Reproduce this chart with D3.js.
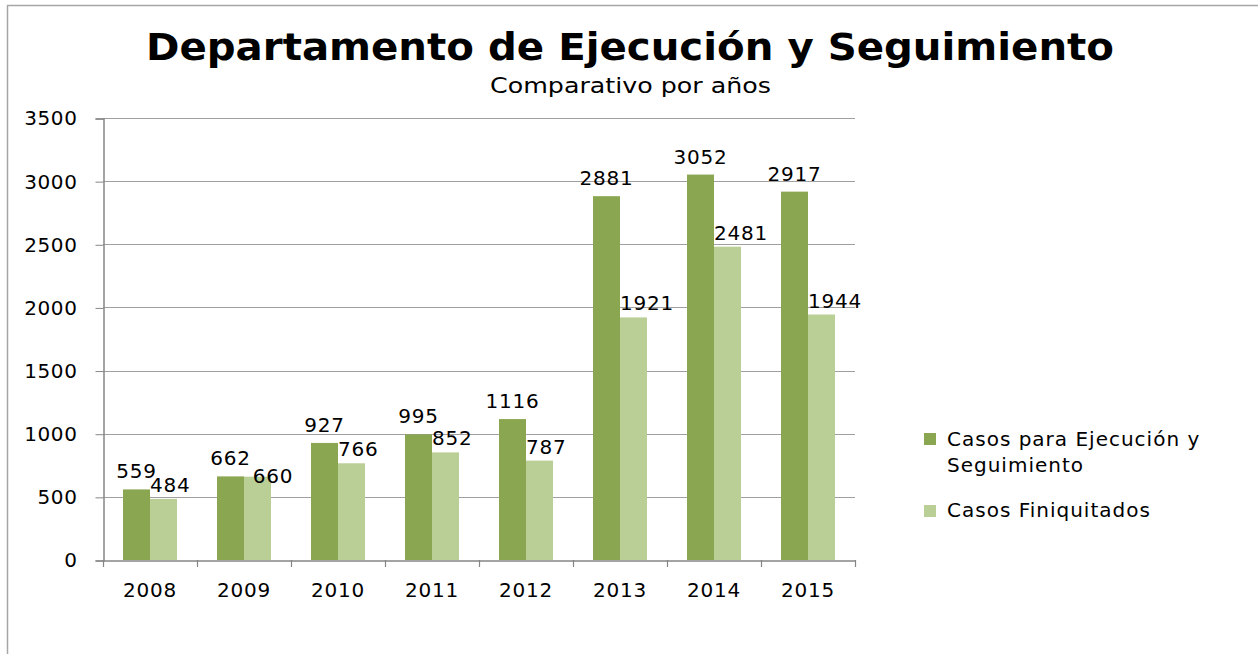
<!DOCTYPE html>
<html>
<head>
<meta charset="utf-8">
<script src="https://cdn.jsdelivr.net/npm/d3@7"></script>
<style>
  body { margin: 0; background: #fff; }
  svg text { font-family: "DejaVu Sans", sans-serif; fill: #000; }
</style>
</head>
<body>
<div id="chart"></div>
<script>
const years = ["2008", "2009", "2010", "2011", "2012", "2013", "2014", "2015"];
const casosEjecucion = [559, 662, 927, 995, 1116, 2881, 3052, 2917];
const casosFiniquitados = [484, 660, 766, 852, 787, 1921, 2481, 1944];
const seriesNames = ["Casos para Ejecución y Seguimiento", "Casos Finiquitados"];
const yTicks = [0, 500, 1000, 1500, 2000, 2500, 3000, 3500];

const colors = ["#8AA650", "#BACF96"];
const W = 1259, H = 654;
const plot = { left: 103, right: 855, top: 118, bottom: 560 };

const svg = d3.select("#chart").append("svg")
  .attr("width", W).attr("height", H);

// outer frame lines
svg.append("line").attr("x1", 7).attr("x2", 1258).attr("y1", 5.5).attr("y2", 5.5)
  .attr("stroke", "#a6a6a6").attr("stroke-width", 1.5);
svg.append("line").attr("x1", 7.5).attr("x2", 7.5).attr("y1", 5).attr("y2", H)
  .attr("stroke", "#a6a6a6").attr("stroke-width", 1.5);

// title (glyphs stretched a bit, like the original)
svg.append("text").attr("x", 146).attr("y", 60)
  .attr("textLength", 968).attr("lengthAdjust", "spacingAndGlyphs")
  .style("font-size", "37px").style("font-weight", "bold")
  .text("Departamento de Ejecución y Seguimiento");
svg.append("text").attr("x", 490).attr("y", 93)
  .attr("textLength", 281).attr("lengthAdjust", "spacingAndGlyphs")
  .style("font-size", "21px")
  .text("Comparativo por años");

const x = d3.scaleBand().domain(years).range([plot.left, plot.right]);
const barW = 27;
const y = d3.scaleLinear().domain([0, 3500]).range([plot.bottom, plot.top]);
const barX = k => (x.bandwidth() - 2 * barW) / 2 + k * barW;

// gridlines
svg.append("g").selectAll("line").data(yTicks.filter(d => d > 0)).join("line")
  .attr("x1", plot.left).attr("x2", plot.right)
  .attr("y1", d => Math.round(y(d)) + 0.5).attr("y2", d => Math.round(y(d)) + 0.5)
  .attr("stroke", "#a0a0a0").attr("stroke-width", 1.2);

// y axis
const yAxis = svg.append("g").attr("transform", `translate(${plot.left + 0.5},0.5)`)
  .call(d3.axisLeft(y).tickValues(yTicks).tickFormat(d3.format("d")).tickSize(8).tickPadding(18));
yAxis.select(".domain").attr("stroke", "#868686").attr("stroke-width", 1.5);
yAxis.selectAll(".tick line").attr("stroke", "#868686");
yAxis.selectAll(".tick text").style("font-size", "20px").style("font-family", "DejaVu Sans")
  .style("letter-spacing", "0.6px");

// bars
const data = years.map((yr, i) => ({ yr, vals: [casosEjecucion[i], casosFiniquitados[i]] }));
const groups = svg.append("g").selectAll("g").data(data).join("g")
  .attr("transform", d => `translate(${x(d.yr)},0)`);
groups.selectAll("rect").data(d => d.vals.map((v, k) => ({ v, k }))).join("rect")
  .attr("x", d => barX(d.k)).attr("width", barW)
  .attr("y", d => y(d.v)).attr("height", d => y(0) - y(d.v))
  .attr("fill", d => colors[d.k]);
groups.each(function () {
  const g = d3.select(this);
  const vals = g.datum().vals;
  const darkY = y(vals[0]) - 11, lightY = y(vals[1]) - 7;
  const dark = g.append("text")
    .attr("x", barX(0) + barW / 2).attr("y", darkY)
    .attr("text-anchor", "middle")
    .style("font-size", "20px").style("letter-spacing", "0.8px")
    .text(vals[0]);
  const light = g.append("text")
    .attr("x", barX(1)).attr("y", lightY)
    .style("font-size", "20px").style("letter-spacing", "0.8px")
    .text(vals[1]);
  // nudge the second label when it would sit on top of the first
  const a = dark.node().getBBox();
  if (a.x + a.width > barX(1) && Math.abs(darkY - lightY) < 12) {
    light.attr("x", a.x + a.width + 2).attr("y", y(vals[1]) + 6);
  }
});

// x axis
const xAxis = svg.append("g").attr("transform", `translate(0,${plot.bottom + 0.5})`)
  .call(d3.axisBottom(x).tickSize(0).tickPadding(22));
xAxis.select(".domain").attr("stroke", "#868686").attr("stroke-width", 1.5);
xAxis.selectAll(".tick text").style("font-size", "20px").style("font-family", "DejaVu Sans")
  .style("letter-spacing", "0.8px");
svg.append("g").selectAll("line").data(years.concat(["end"])).join("line")
  .attr("x1", (d, i) => Math.round(plot.left + i * x.step()) + 0.5)
  .attr("x2", (d, i) => Math.round(plot.left + i * x.step()) + 0.5)
  .attr("y1", plot.bottom).attr("y2", plot.bottom + 7)
  .attr("stroke", "#868686").attr("stroke-width", 1.2);

// legend
const legend = svg.append("g").style("font-size", "20px").style("letter-spacing", "1px");
legend.append("rect").attr("x", 924).attr("y", 433).attr("width", 12).attr("height", 12).attr("fill", colors[0]);
legend.append("text").attr("x", 947).attr("y", 446).text("Casos para Ejecución y");
legend.append("text").attr("x", 947).attr("y", 472).text("Seguimiento");
legend.append("rect").attr("x", 924).attr("y", 505).attr("width", 12).attr("height", 12).attr("fill", colors[1]);
legend.append("text").attr("x", 947).attr("y", 517).text(seriesNames[1]);
</script>
</body>
</html>
